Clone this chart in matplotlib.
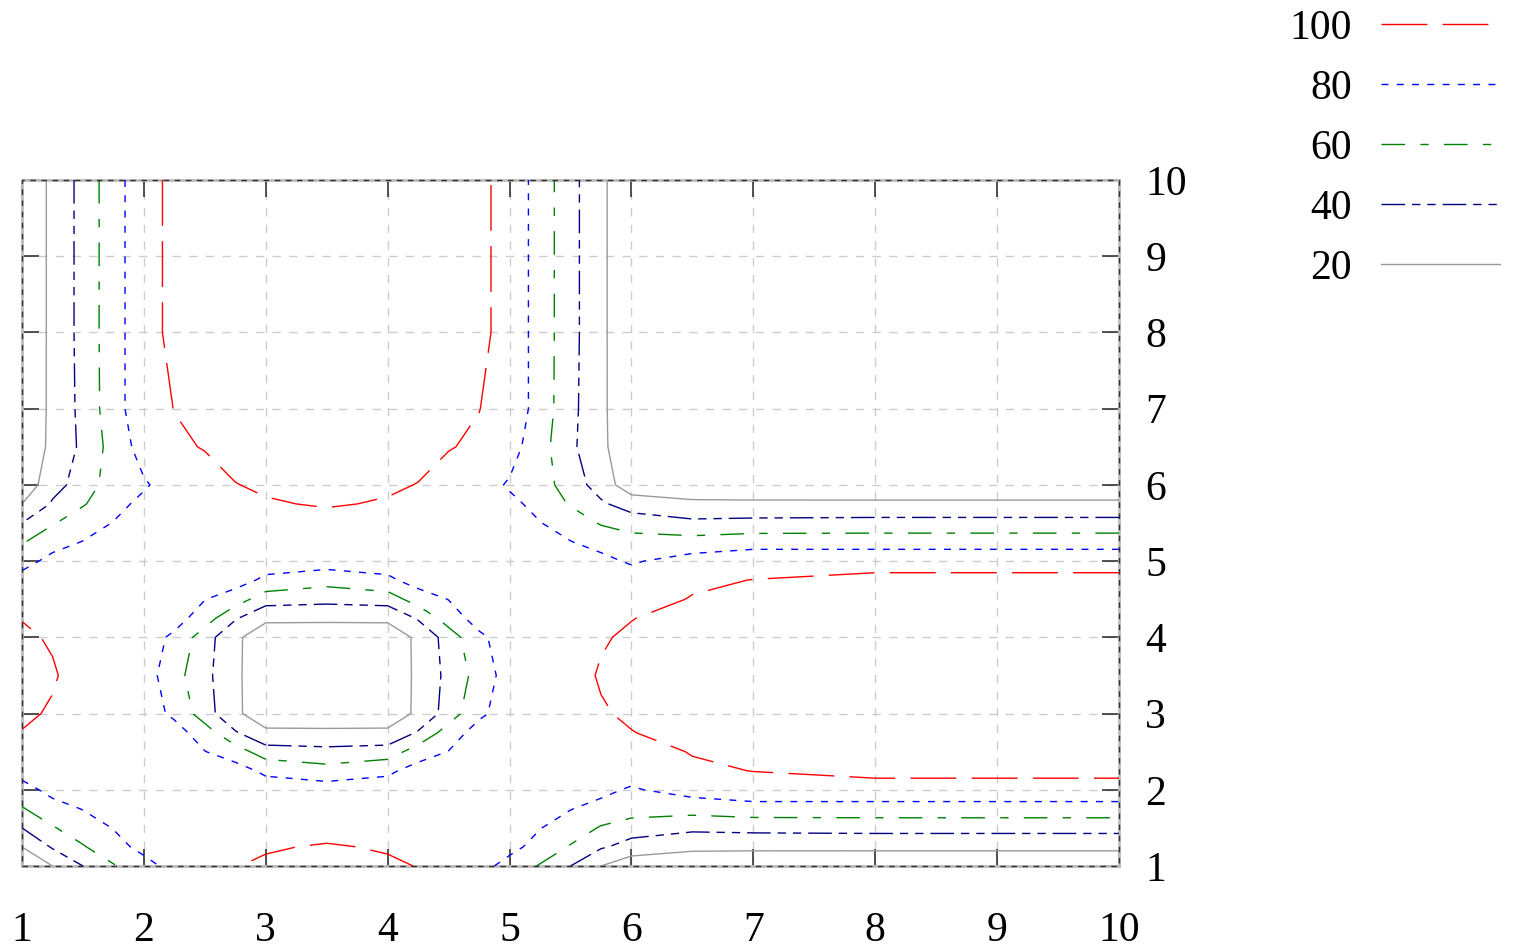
import numpy as np
import matplotlib
matplotlib.use("Agg")
import matplotlib.pyplot as plt
from matplotlib.lines import Line2D
from matplotlib.patches import Rectangle

plt.rcParams['font.family'] = ['Liberation Serif', 'DejaVu Serif']

# grid nodes, same on both axes
nodes = [1.0, 1.25, 1.5, 1.75, 2.0, 2.25, 2.5, 2.75, 3.0, 3.5, 4.0, 4.25, 4.5,
         4.75, 5.0, 5.25, 5.5, 5.75, 6.0, 6.5, 7.0, 8.0, 10.0]

# surface values (row = y node, column = x node)
z = [
    [4.5, 20, 40, 58, 75, 85, 92, 99.8, 101, 101.5, 101, 99.8, 92, 85, 75, 58, 40, 20, 4.5, 3, 2.5, 2.3, 2.3],
    [20, 42, 58, 75, 84, 88, 94, 97.5, 99.4, 100.6, 99.4, 97.5, 94, 88, 84, 75, 58, 42, 34, 25, 24.5, 24.5, 24.5],
    [40, 58, 73, 80.5, 86, 89, 91.5, 93.5, 95.5, 97.5, 95.5, 93.5, 91.5, 89, 86, 80.5, 73, 58, 47, 44, 45.5, 46.4, 46.4],
    [58, 75, 80.5, 85, 88, 89.5, 90.5, 91.5, 92.5, 94, 92.5, 91.5, 90.5, 89.5, 88, 85, 80.5, 75, 72, 68, 72, 72, 72],
    [75, 84, 86, 88, 90, 89.9, 89.9, 89.8, 89.8, 89.7, 89.8, 89.8, 89.9, 89.9, 90, 88, 86, 84, 78, 88, 93, 93, 93],
    [85, 88, 89, 89.5, 89.9, 87, 86, 88, 76, 67.5, 76, 88, 86, 87, 89.9, 89.5, 89, 88, 88, 97.5, 100.3, 104.5, 104.5],
    [92, 94, 91.5, 90.5, 89.9, 86, 80.5, 70, 49.2, 45.6, 49.2, 70, 80.5, 86, 89.9, 90.5, 91.5, 94, 94, 100.8, 102.5, 104.5, 104.5],
    [99.8, 97.5, 93.5, 91.5, 89.8, 88, 70, 42, 22.5, 23.6, 22.5, 42, 70, 88, 89.8, 91.5, 93.5, 97.5, 99.8, 102.5, 103, 104.5, 104.5],
    [101, 99.4, 95.5, 92.5, 89.8, 76, 49.2, 22.5, 12, 7.2, 12, 22.5, 49.2, 76, 89.8, 92.5, 95.5, 99.4, 101, 102.5, 103, 104.5, 104.5],
    [101.5, 100.6, 97.5, 94, 89.7, 67.5, 45.6, 23.6, 7.2, 0, 7.2, 23.6, 45.6, 67.5, 89.7, 94, 97.5, 100.6, 101.5, 102.5, 103, 104.5, 104.5],
    [101, 99.4, 95.5, 92.5, 89.8, 76, 49.2, 22.5, 12, 7.2, 12, 22.5, 49.2, 76, 89.8, 92.5, 95.5, 99.4, 101, 102.5, 103, 104.5, 104.5],
    [99.8, 97.5, 93.5, 91.5, 89.8, 88, 70, 42, 22.5, 23.6, 22.5, 42, 70, 88, 89.8, 91.5, 93.5, 97.5, 99.8, 102.5, 103, 104.5, 104.5],
    [92, 94, 91.5, 90.5, 89.9, 86, 80.5, 70, 49.2, 45.6, 49.2, 70, 80.5, 86, 89.9, 90.5, 91.5, 94, 94, 100.8, 102.5, 104.5, 104.5],
    [85, 88, 89, 89.5, 89.9, 87, 86, 88, 76, 67.5, 76, 88, 86, 87, 89.9, 89.5, 89, 88, 88, 97.5, 100.3, 104.5, 104.5],
    [75, 84, 86, 88, 90, 89.9, 89.9, 89.8, 89.8, 89.7, 89.8, 89.8, 89.9, 89.9, 90, 88, 86, 84, 78, 88, 93, 93, 93],
    [58, 75, 80.5, 85, 88, 89.5, 90.5, 91.5, 92.5, 94, 92.5, 91.5, 90.5, 89.5, 88, 85, 80.5, 75, 72, 68, 72, 72, 72],
    [40, 58, 73, 80.5, 86, 89, 91.5, 93.5, 95.5, 97.5, 95.5, 93.5, 91.5, 89, 86, 80.5, 73, 58, 47, 44, 45.5, 46.4, 46.4],
    [20, 42, 58, 75, 84, 88, 94, 97.5, 99.4, 100.6, 99.4, 97.5, 94, 88, 84, 75, 58, 42, 34, 25, 24.5, 24.5, 24.5],
    [4.5, 34, 47, 72, 78, 88, 94, 99.8, 101, 101.5, 101, 99.8, 94, 88, 78, 72, 47, 34, 4.6, 3, 2.5, 2.3, 2.3],
    [3, 25, 44, 68, 88, 97.5, 100.8, 102.5, 102.5, 102.5, 102.5, 102.5, 100.8, 97.5, 88, 68, 44, 25, 3, 0, 0, 0, 0],
    [2.5, 24.5, 45.5, 72, 93, 100.3, 102.5, 103, 103, 103, 103, 103, 102.5, 100.3, 93, 72, 45.5, 24.5, 2.5, 0, 0, 0, 0],
    [2.3, 24.5, 46.4, 72, 93, 104.5, 104.5, 104.5, 104.5, 104.5, 104.5, 104.5, 104.5, 104.5, 93, 72, 46.4, 24.5, 2.3, 0, 0, 0, 0],
    [2.3, 24.5, 46.4, 72, 93, 104.5, 104.5, 104.5, 104.5, 104.5, 104.5, 104.5, 104.5, 104.5, 93, 72, 46.4, 24.5, 2.3, 0, 0, 0, 0],
]

levels = [100, 80, 60, 40, 20]
colors = ['#ff0000', '#0000ff', '#008000', '#000080', '#999999']
styles = [(0, (33, 11)), (0, (5, 6)), (0, (17, 11, 6, 11)),
          (0, (17, 5, 6, 5, 6, 5)), 'solid']
ticks = list(range(1, 11))

X, Y = np.meshgrid(nodes, nodes)
Z = np.array(z)

fig = plt.figure(figsize=(15.22, 9.51), dpi=100)
ax = fig.add_axes([22 / 1522, 85 / 951, 1097 / 1522, 686 / 951])

ax.set_xlim(1, 10)
ax.set_ylim(1, 10)
ax.set_xticks(ticks)
ax.set_yticks(ticks)
ax.set_axisbelow(True)
ax.grid(True, color='#cccccc', linestyle=(0, (6, 6)), linewidth=1.0)

for lev, col, ls in zip(levels, colors, styles):
    ax.contour(X, Y, Z, levels=[lev], colors=[col], linewidths=1.0,
               linestyles=[ls], zorder=3)

ax.tick_params(direction='in', length=12, width=1.2, color='#333333',
               top=True, right=True, labelsize=30)
ax.tick_params(axis='y', labelleft=False, labelright=True, pad=19)
ax.tick_params(axis='x', pad=33)

for s in ax.spines.values():
    s.set_color('#bbbbbb')
    s.set_linewidth(2)
ax.add_patch(Rectangle((0, 0), 1, 1, transform=ax.transAxes, fill=False,
                       edgecolor='#333333', linestyle=(0, (4, 4)), lw=1,
                       clip_on=False, zorder=5))

# key, top right outside the plot
for k, (lev, col, ls) in enumerate(zip(levels, colors, styles)):
    yb = 1 - (39 + 60 * k) / 951
    fig.text(1352 / 1522, yb, str(lev), ha='right', va='baseline', fontsize=30)
    yl = 1 - (24 + 60 * k) / 951
    fig.add_artist(Line2D([1381 / 1522, 1500 / 1522], [yl, yl],
                          transform=fig.transFigure, color=col,
                          linestyle=ls, lw=1.0))

fig.savefig('out.png', dpi=100)
